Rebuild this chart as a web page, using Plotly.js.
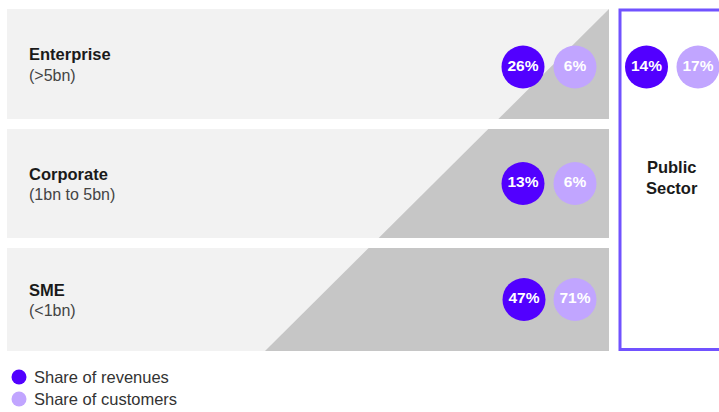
<!DOCTYPE html>
<html>
<head>
<meta charset="utf-8">
<script src="https://cdn.plot.ly/plotly-3.0.1.min.js"></script>
<style>
html,body{margin:0;padding:0;background:#fff;}
#chart{width:719px;height:412px;}
</style>
</head>
<body>
<div id="chart"></div>
<script>
// ---- data ----
const segments = ['Enterprise', 'Corporate', 'SME', 'Public Sector'];
const sizeBands = ['(>5bn)', '(1bn to 5bn)', '(<1bn)', ''];
const revenueShare = [26, 13, 47, 14];
const customerShare = [6, 6, 71, 17];
const legendLabels = ['Share of revenues', 'Share of customers'];

// ---- styling / layout geometry ----
const REV_COLOR = '#5200ff';
const CUS_COLOR = '#c1a5ff';
const GRAY = '#c6c6c6';
const LIGHT = '#f2f2f2';
const FONT = 'Liberation Sans, Arial, sans-serif';

const rows = [ {y0: 9, y1: 119}, {y0: 129, y1: 238}, {y0: 248, y1: 351} ];
const rowX0 = 7, rowX1 = 609;
const diag = y => 609 - (y - 9) * (344 / 342);
const publicBox = {x0: 620, x1: 730, y0: 10, y1: 349.5};
const revX = [523, 523, 524, 646.5];
const cusX = [575, 575, 575, 698];
const rowCenters = [67, 183.5, 299.5, 67];

const shapes = [];
const annotations = [];
rows.forEach((r, i) => {
  shapes.push({type: 'rect', xref: 'x', yref: 'y', x0: rowX0, x1: rowX1, y0: r.y0, y1: r.y1,
    fillcolor: LIGHT, line: {width: 0}, layer: 'below'});
  const xt = diag(r.y0), xb = diag(r.y1);
  shapes.push({type: 'path', xref: 'x', yref: 'y',
    path: `M ${xt} ${r.y0} L ${rowX1} ${r.y0} L ${rowX1} ${r.y1} L ${xb} ${r.y1} Z`,
    fillcolor: GRAY, line: {width: 0}, layer: 'below'});
  const c = (r.y0 + r.y1) / 2;
  annotations.push({x: 26.5, y: c - 10, xref: 'x', yref: 'y', xanchor: 'left', yanchor: 'middle',
    text: segments[i], showarrow: false, font: {family: FONT, size: 16.5, color: '#1a1a1a', weight: 700}});
  annotations.push({x: 26.5, y: c + 11, xref: 'x', yref: 'y', xanchor: 'left', yanchor: 'middle',
    text: sizeBands[i], showarrow: false, font: {family: FONT, size: 16, color: '#444444'}});
});
shapes.push({type: 'rect', xref: 'x', yref: 'y', x0: publicBox.x0, x1: publicBox.x1,
  y0: publicBox.y0, y1: publicBox.y1, fillcolor: 'rgba(0,0,0,0)',
  line: {color: '#7152ff', width: 3}, layer: 'below'});
annotations.push({x: 672, y: 177, xref: 'x', yref: 'y', xanchor: 'center', yanchor: 'middle',
  text: 'Public<br>Sector', showarrow: false, align: 'center',
  font: {family: FONT, size: 16.5, color: '#1a1a1a', weight: 700}});

// legend text
const legendY = [377, 399];
legendLabels.forEach((t, i) => {
  annotations.push({x: 32, y: legendY[i], xref: 'x', yref: 'y', xanchor: 'left', yanchor: 'middle',
    text: t, showarrow: false, font: {family: FONT, size: 16.5, color: '#333333'}});
});

const pct = v => v.map(n => n + '%');
const traces = [
  {type: 'scatter', mode: 'markers+text', x: revX, y: rowCenters, text: pct(revenueShare),
   textposition: 'middle center', cliponaxis: false,
   textfont: {family: FONT, size: 15.5, color: '#ffffff', weight: 700},
   marker: {size: 43, color: REV_COLOR, line: {width: 0}}, hoverinfo: 'skip'},
  {type: 'scatter', mode: 'markers+text', x: cusX, y: rowCenters, text: pct(customerShare),
   textposition: 'middle center', cliponaxis: false,
   textfont: {family: FONT, size: 15.5, color: '#ffffff', weight: 700},
   marker: {size: 43, color: CUS_COLOR, line: {width: 0}}, hoverinfo: 'skip'},
  {type: 'scatter', mode: 'markers', x: [19, 19], y: legendY,
   marker: {size: 15, color: [REV_COLOR, CUS_COLOR], line: {width: 0}}, hoverinfo: 'skip'}
];

const layout = {
  width: 719, height: 412,
  margin: {l: 0, r: 0, t: 0, b: 0},
  paper_bgcolor: '#ffffff', plot_bgcolor: '#ffffff',
  showlegend: false,
  xaxis: {range: [0, 719], visible: false, fixedrange: true},
  yaxis: {range: [412, 0], visible: false, fixedrange: true},
  shapes: shapes,
  annotations: annotations
};

Plotly.newPlot('chart', traces, layout, {displayModeBar: false, staticPlot: true});
</script>
</body>
</html>
